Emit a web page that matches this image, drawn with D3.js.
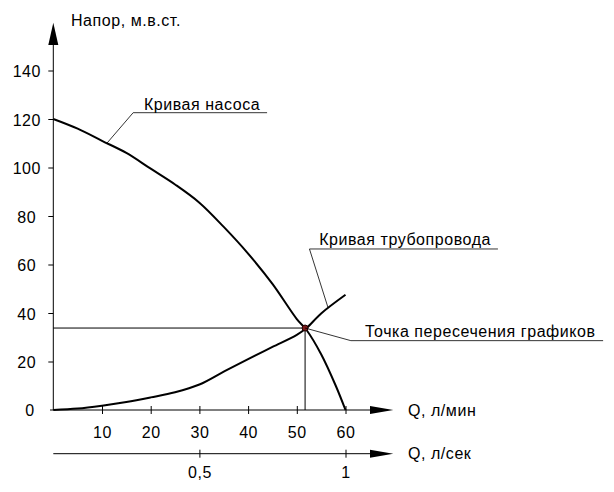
<!DOCTYPE html>
<html>
<head>
<meta charset="utf-8">
<script src="https://cdn.jsdelivr.net/npm/d3@7"></script>
<style>
  body { margin: 0; background: #fff; }
  text { font-family: "Liberation Sans", Arial, sans-serif; font-size: 16px; fill: #000; letter-spacing: 0.55px; }
</style>
</head>
<body>
<div id="chart"></div>
<script>
// pump curve, H (m) vs Q (l/min)
var pumpQ = [0, 5, 10, 15, 20, 25, 30, 35, 40, 45, 50, 52, 55, 58, 60];
var pumpH = [120, 116, 111, 106, 99.5, 93, 85.5, 75.5, 64.5, 52, 37.5, 33, 23, 10, 0];

// pipeline curve
var pipeQ = [0, 5, 10, 15, 20, 25, 30, 35, 40, 45, 50, 52, 55, 60];
var pipeH = [0, 0.6, 1.8, 3.3, 5.2, 7.3, 10.5, 15.8, 21, 26, 31, 33.8, 39.8, 47.5];

// operating point
var opQ = 51.7;
var opH = 33.8;

var yTicks = [20, 40, 60, 80, 100, 120, 140];
var xTicks = [10, 20, 30, 40, 50, 60];
var secTicks = [0.5, 1];
var secTickLabels = ["0,5", "1"];

var yTitle = "Напор, м.в.ст.";
var xTitle = "Q, л/мин";
var secTitle = "Q, л/сек";
var pumpName = "Кривая насоса";
var pipeName = "Кривая трубопровода";
var opName = "Точка пересечения графиков";

var width = 614, height = 492;

var svg = d3.select("#chart").append("svg")
    .attr("width", width)
    .attr("height", height);

var x = d3.scaleLinear([0, 60], [53.3, 345.5]);
var y = d3.scaleLinear([0, 140], [410, 70.5]);
var xs = d3.scaleLinear([0, 1], [53.3, 345.5]);   // l/sec
var y2 = 453.7;

// y axis
var yAxis = svg.append("g")
    .attr("transform", "translate(" + x(0) + ",0)")
    .call(d3.axisLeft(y).tickValues(yTicks).tickSize(5))
    .call(g => g.select(".domain").remove());
yAxis.selectAll("line").attr("stroke", "#000");
yAxis.selectAll("text")
    .attr("x", -26.5)
    .attr("text-anchor", "middle")
    .attr("dy", "0.4em")
    .style("font-size", "16px")
    .style("font-family", null);

svg.append("line")
    .attr("x1", x(0)).attr("x2", x(0))
    .attr("y1", y(0)).attr("y2", 45)
    .attr("stroke", "#000");
svg.append("path")
    .attr("d", d3.line()([[x(0) - 5, 45], [x(0) + 5, 45], [x(0), 22.7]]))
    .attr("fill", "#000");
svg.append("text")
    .attr("x", 71).attr("y", 26)
    .text(yTitle);

// origin label
svg.append("text")
    .attr("x", 30).attr("y", y(0)).attr("dy", "0.4em")
    .attr("text-anchor", "middle")
    .text("0");

// x axis, l/min
var xAxis = svg.append("g")
    .attr("transform", "translate(0," + y(0) + ")")
    .call(d3.axisBottom(x).tickValues(xTicks).tickSize(4).tickPadding(0))
    .call(g => g.select(".domain").remove());
xAxis.selectAll("line").attr("y1", -4).attr("stroke", "#000");
xAxis.selectAll("text")
    .attr("y", 27.7).attr("dy", 0)
    .style("font-size", "16px")
    .style("font-family", null);

svg.append("line")
    .attr("x1", 50).attr("x2", 370)
    .attr("y1", y(0)).attr("y2", y(0))
    .attr("stroke", "#000");
svg.append("path")
    .attr("d", d3.line()([[370, y(0) - 4], [370, y(0) + 4], [393.3, y(0)]]))
    .attr("fill", "#000");
svg.append("text")
    .attr("x", 408).attr("y", y(0) + 5.7)
    .text(xTitle);

// x axis, l/sec
var sAxis = svg.append("g")
    .attr("transform", "translate(0," + y2 + ")")
    .call(d3.axisBottom(xs).tickValues(secTicks).tickSize(4).tickPadding(0)
        .tickFormat((d, i) => secTickLabels[i]))
    .call(g => g.select(".domain").remove());
sAxis.selectAll("line").attr("y1", -4).attr("stroke", "#000");
sAxis.selectAll("text")
    .attr("y", 24.6).attr("dy", 0)
    .style("font-size", "16px")
    .style("font-family", null);

svg.append("line")
    .attr("x1", 53.3).attr("x2", 370)
    .attr("y1", y2).attr("y2", y2)
    .attr("stroke", "#000");
svg.append("path")
    .attr("d", d3.line()([[370, y2 - 4], [370, y2 + 4], [393.3, y2]]))
    .attr("fill", "#000");
svg.append("text")
    .attr("x", 408).attr("y", y2 + 5)
    .text(secTitle);

// guide lines to operating point
svg.append("line")
    .attr("x1", x(0)).attr("x2", x(opQ))
    .attr("y1", y(opH)).attr("y2", y(opH))
    .attr("stroke", "#000");
svg.append("line")
    .attr("x1", x(opQ)).attr("x2", x(opQ))
    .attr("y1", y(opH)).attr("y2", y(0))
    .attr("stroke", "#000");

// curves
var line = d3.line()
    .x(d => x(d[0]))
    .y(d => y(d[1]))
    .curve(d3.curveCatmullRom);

svg.append("path")
    .attr("d", line(d3.zip(pumpQ, pumpH)))
    .attr("fill", "none")
    .attr("stroke", "#000")
    .attr("stroke-width", 2);

svg.append("path")
    .attr("d", line(d3.zip(pipeQ, pipeH)))
    .attr("fill", "none")
    .attr("stroke", "#000")
    .attr("stroke-width", 2);

svg.append("circle")
    .attr("cx", x(opQ)).attr("cy", y(opH))
    .attr("r", 3)
    .attr("fill", "#7a1a1a")
    .attr("stroke", "#200")
    .attr("stroke-width", 1);

// leader callouts (data units: anchor, elbow, end)
function callout(pts, label, tq, th) {
    svg.append("path")
        .attr("d", d3.line()(pts.map(p => [x(p[0]), y(p[1])])))
        .attr("fill", "none")
        .attr("stroke", "#000")
        .attr("stroke-width", 0.8);
    svg.append("text")
        .attr("x", x(tq)).attr("y", y(th))
        .text(label);
}

callout([[11, 110], [16.4, 122.6], [43.9, 122.6]], pumpName, 18.6, 123.7);
callout([[56.4, 42.3], [52.6, 66.4], [91.3, 66.4]], pipeName, 54.6, 68);
callout([[opQ, opH], [61.1, 28.6], [112.9, 28.6]], opName, 64, 30.2);
</script>
</body>
</html>
